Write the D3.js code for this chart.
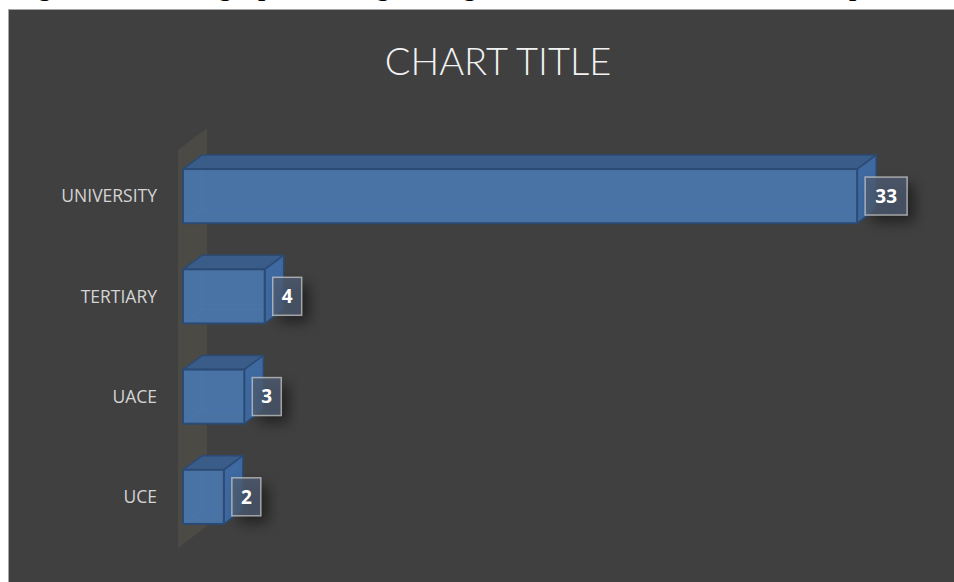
<!DOCTYPE html>
<html>
<head>
<meta charset="utf-8">
<script src="https://cdn.jsdelivr.net/npm/d3@7"></script>
<style>
    body { margin: 0; background: #ffffff; }
    svg { display: block; }
</style>
</head>
<body>
<div id="chart"></div>
<script>
// data
const categories = ['UNIVERSITY', 'TERTIARY', 'UACE', 'UCE'];
const values = [33, 4, 3, 2];
const chartTitle = 'CHART TITLE';
const caption = 'Figure 4.5: A bar graph showing the highest level of education of the respondents';

const width = 954, height = 582;
const depthX = 19, depthY = -14; // 3d offset

const svg = d3.select('#chart')
    .append('svg')
    .attr('width', width)
    .attr('height', height);

// soft shadow for the data labels
const defs = svg.append('defs');
const shadow = defs.append('filter').attr('id', 'shadow')
    .attr('x', '-60%').attr('y', '-60%').attr('width', '220%').attr('height', '220%');
shadow.append('feGaussianBlur').attr('in', 'SourceAlpha').attr('stdDeviation', 7);
shadow.append('feOffset').attr('dx', 7).attr('dy', 7).attr('result', 'blur');
shadow.append('feComponentTransfer').append('feFuncA').attr('type', 'linear').attr('slope', 0.5);

// caption, cut off at the top of the page
svg.append('text')
    .attr('x', 14)
    .attr('y', -4)
    .attr('textLength', 940)
    .attr('lengthAdjust', 'spacing')
    .style('font-family', '"Liberation Serif", serif')
    .style('font-weight', 'bold')
    .style('font-size', '26px')
    .attr('fill', '#000')
    .text(caption);

// chart area
svg.append('rect')
    .attr('x', 8.5).attr('y', 9.5)
    .attr('width', width).attr('height', height)
    .attr('fill', '#404040')
    .attr('stroke', '#a6a6a6')
    .attr('stroke-width', 1);

svg.append('text')
    .attr('x', 498)
    .attr('y', 75)
    .attr('text-anchor', 'middle')
    .style('font-family', 'Lato, "Open Sans", sans-serif')
    .style('font-weight', 300)
    .style('font-size', '38px')
    .attr('fill', '#f2f2f2')
    .text(chartTitle);

// scales
const scaleX = d3.scaleLinear([0, 35], [183, 898]);
const scaleY = d3.scaleBand(categories, [146, 547]).paddingInner(0.46).paddingOuter(0.23);

// back wall
const wallX0 = scaleX(0) - 5;
const wallTop = scaleY.range()[0] + 4, wallBottom = scaleY.range()[1] + 1;
svg.append('path')
    .attr('d', `M${wallX0},${wallTop} L${wallX0 + 29},${wallTop - 22} L${wallX0 + 29},${wallBottom - 22} L${wallX0},${wallBottom} Z`)
    .attr('fill', '#4c4a44');

// category labels
svg.selectAll('text.cat')
    .data(categories)
    .join('text')
    .classed('cat', true)
    .attr('x', 157)
    .attr('y', d => scaleY(d) + scaleY.bandwidth() / 2)
    .attr('dy', '0.35em')
    .attr('text-anchor', 'end')
    .style('font-family', '"Open Sans", Lato, sans-serif')
    .style('font-size', '17.5px')
    .attr('fill', '#d4d4d4')
    .text(d => d);

const data = categories.map((c, i) => ({ cat: c, value: values[i] }));

const bars = svg.selectAll('g.bar')
    .data(data)
    .join('g')
    .classed('bar', true);

const x0 = scaleX(0);
const edge = '#2b4b74';

// hidden back edges (translucent look)
bars.append('path')
    .attr('d', d => {
        const x1 = scaleX(d.value), y0 = scaleY(d.cat), y1 = y0 + scaleY.bandwidth();
        return `M${x0 + depthX},${y0 + depthY} L${x0 + depthX},${y1 + depthY} L${x1 + depthX},${y1 + depthY}` +
            ` M${x0},${y1} L${x0 + depthX},${y1 + depthY}`;
    })
    .attr('fill', 'none')
    .attr('stroke', '#3d6aa3')
    .attr('stroke-width', 1);

// top face
bars.append('path')
    .attr('d', d => {
        const x1 = scaleX(d.value), y0 = scaleY(d.cat);
        return `M${x0},${y0} L${x0 + depthX},${y0 + depthY} L${x1 + depthX},${y0 + depthY} L${x1},${y0} Z`;
    })
    .attr('fill', '#3a5c88')
    .attr('stroke', edge)
    .attr('stroke-width', 1.5)
    .attr('stroke-linejoin', 'round');

// side face
bars.append('path')
    .attr('d', d => {
        const x1 = scaleX(d.value), y0 = scaleY(d.cat), y1 = y0 + scaleY.bandwidth();
        return `M${x1},${y0} L${x1 + depthX},${y0 + depthY} L${x1 + depthX},${y1 + depthY} L${x1},${y1} Z`;
    })
    .attr('fill', '#3e69a1')
    .attr('stroke', edge)
    .attr('stroke-width', 1.5)
    .attr('stroke-linejoin', 'round');

// front face
bars.append('rect')
    .attr('x', x0)
    .attr('y', d => scaleY(d.cat))
    .attr('width', d => scaleX(d.value) - x0)
    .attr('height', scaleY.bandwidth())
    .attr('fill', '#4a78b0')
    .attr('fill-opacity', 0.9)
    .attr('stroke', edge)
    .attr('stroke-width', 2);

// data labels
const labels = svg.selectAll('g.label')
    .data(data)
    .join('g')
    .classed('label', true)
    .attr('transform', d => `translate(${scaleX(d.value) + 8}, ${scaleY(d.cat) + 8})`);

labels.append('rect')
    .attr('width', d => d.value >= 10 ? 42 : 29)
    .attr('height', 38)
    .attr('fill', '#000')
    .attr('filter', 'url(#shadow)');

labels.append('rect')
    .attr('width', d => d.value >= 10 ? 42 : 29)
    .attr('height', 38)
    .attr('fill', '#4d5c72')
    .attr('fill-opacity', 0.8)
    .attr('stroke', '#c8c8c8')
    .attr('stroke-opacity', 0.75)
    .attr('stroke-width', 1.5);

labels.append('text')
    .attr('x', d => d.value >= 10 ? 21 : 14.5)
    .attr('y', 19)
    .attr('dy', '0.36em')
    .attr('text-anchor', 'middle')
    .style('font-family', '"Open Sans", Lato, sans-serif')
    .style('font-weight', 'bold')
    .style('font-size', '19px')
    .attr('fill', '#ffffff')
    .text(d => d.value);
</script>
</body>
</html>
